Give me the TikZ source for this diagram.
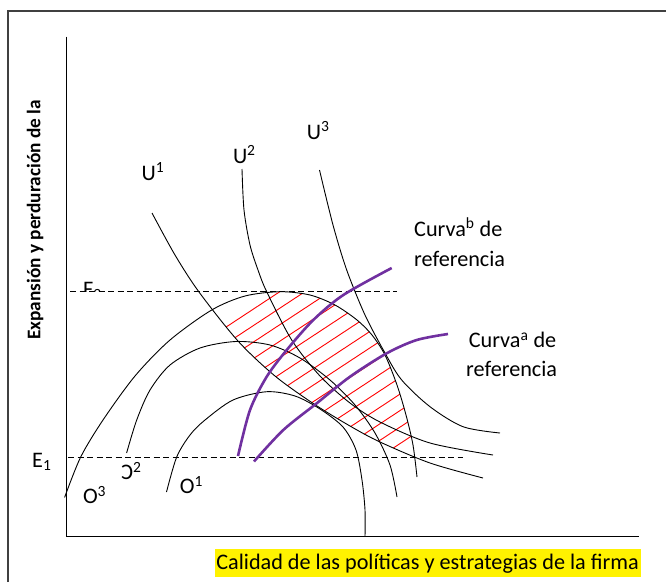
\documentclass[tikz,border=0pt]{standalone}
\usepackage{fontspec}
\setmainfont{Carlito}
\definecolor{refpurple}{HTML}{7030A0}
\begin{document}
\begin{tikzpicture}[x=1pt,y=-1pt,
  curve/.style={line width=0.9pt},
  dashln/.style={line width=0.9pt,dash pattern=on 6pt off 3.5pt},
  refc/.style={line width=2.6pt,color=refpurple},
  hatchln/.style={red,line width=0.9pt},
  lbl/.style={font=\fontsize{22.2}{26}\selectfont,inner sep=0pt,anchor=base west}]
\useasboundingbox (0,0) rectangle (666,582);
% frame
\draw[line width=1.3pt,black!75] (8,582) -- (8,11) -- (666,11);
% axes
\coordinate (ytop) at (66,36.5);
\coordinate (orig) at (66,536.5);
\coordinate (xend) at (638.5,536.5);
\draw[line width=1pt] (ytop) -- (orig) -- (xend);
% hatching
\begin{scope}
\clip plot[smooth] coordinates {(64.6,497.4) (80.7,457) (103,420) (135,376) (170,340) (211.7,310) (245,296) (280,291.7) (310,295) (335,305) (357,320) (372,335) (385,355) (397,385) (406,415) (413,445) (417,477)} -- cycle;
\clip plot[smooth] coordinates {(152,213) (175,255) (199,292) (238,341) (275,376) (314,404) (350,426) (380,442) (430,463) (483,478)} -- (600,478) -- (600,100) -- (152,100) -- cycle;
\foreach \c in {0,...,14} \draw[hatchln] (150,{475.8+16.5*\c-0.658*150}) -- (460,{475.8+16.5*\c-0.658*460});
\end{scope}
% dashed lines
\coordinate (f2a) at (70,291.7);
\coordinate (f2b) at (397,291.7);
\coordinate (e1a) at (68,457.3);
\coordinate (e1b) at (463,457.3);
\draw[dashln] (f2a) -- (f2b);
\draw[dashln] (e1a) -- (e1b);
% U curves
\draw[curve] plot[smooth] coordinates {(152,213) (175,255) (199,292) (238,341) (275,376) (314,404) (350,426) (380,442) (430,463) (483,478)};
\draw[curve] plot[smooth] coordinates {(242,169) (244,210) (250,245) (258,270) (266.7,291.7) (291.7,340) (320,376) (350,403) (380,422) (430,443) (493,455)};
\draw[curve] plot[smooth] coordinates {(319.5,170) (333,225) (346.7,270) (365,315) (385,353) (401.7,380) (430,406.7) (463,426.7) (500,433)};
% O curves
\draw[curve] plot[smooth] coordinates {(64.6,497.4) (80.7,457) (103,420) (135,376) (170,340) (211.7,310) (245,296) (280,291.7) (310,295) (335,305) (357,320) (372,335) (385,355) (397,385) (406,415) (413,445) (417,477)};
\draw[curve] plot[smooth] coordinates {(126.6,453) (136.7,420) (150,390) (170,365) (200,348) (235.8,341.5) (270,345) (300,358) (330,380) (355,405) (375,433) (390,465) (397,497)};
\draw[curve] plot[smooth] coordinates {(166.5,492) (176.7,457) (190,435) (205,420) (233,400) (266.7,391.7) (295,396) (320,409) (343,427) (356,450) (362,480) (365,510) (365,536.5)};
% reference curves
\draw[refc] plot[smooth] coordinates {(238,456) (250,410) (266.7,376.7) (286.7,350) (313.3,320) (343.3,295) (391.7,268)};
\draw[refc] plot[smooth] coordinates {(254,461.5) (283.3,430) (316.7,403.3) (350,376.7) (386.7,353.3) (416.7,340) (448,334)};
% labels
\node[lbl] (u1) at (141.5,180) {U\textsuperscript{1}};
\node[lbl] (u2) at (232.8,163) {U\textsuperscript{2}};
\node[lbl] (u3) at (306.7,139) {U\textsuperscript{3}};
\node[lbl] (cb1) at (414,236.5) {Curva\textsuperscript{b} de};
\node[lbl] (cb2) at (414,266.5) {referencia};
\node[lbl] (ca1) at (468.6,347.8) {Curva\textsuperscript{a} de};
\node[lbl] (ca2) at (466,376.8) {referencia};
\node[lbl] (e1) at (32,467) {E\textsubscript{1}};
\begin{scope}
\clip (70,270) rectangle (110,291);
\node[lbl] (f2) at (83,296) {F\textsubscript{2}};
\end{scope}
\node[lbl] (o3) at (82.8,503.7) {O\textsuperscript{3}};
\node[lbl] (o2) at (121,479.6) {\reflectbox{C}\textsuperscript{2}};
\node[lbl] (o1) at (179.7,493.7) {O\textsuperscript{1}};
% axis labels
\fill[yellow] (214.5,549.3) rectangle (640.7,576.7);
\node[font=\fontsize{22.2}{26}\selectfont,inner sep=0pt,anchor=base] (xlab) at (427.6,569.3) {Calidad de las políticas y estrategias de la firma};
\node[font=\bfseries\fontsize{19.3}{22}\selectfont,inner sep=0pt,rotate=90] (ylab) at (35,220) {Expansión y perduración de la};
\end{tikzpicture}
\end{document}
